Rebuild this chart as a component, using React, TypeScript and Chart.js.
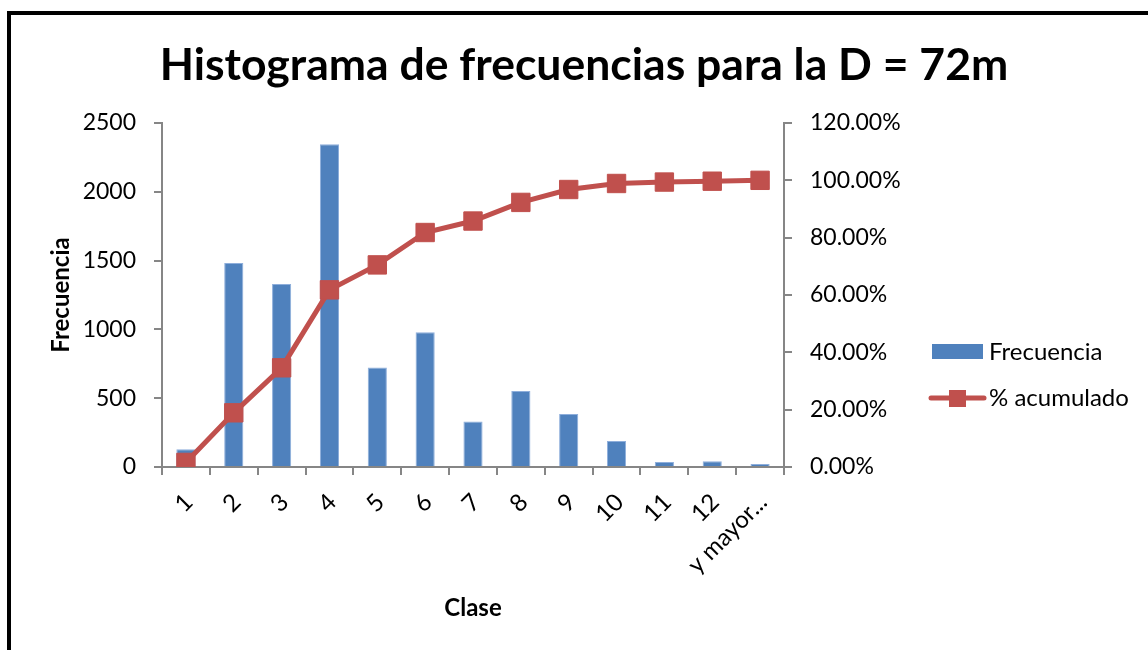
import React, { useEffect, useRef } from "react";
import { Chart, registerables } from "chart.js";

Chart.register(...registerables);

const titleText = "Histograma de frecuencias para la D = 72m";
const categories = ["1", "2", "3", "4", "5", "6", "7", "8", "9", "10", "11", "12", "y mayor..."];
const frecuencia = [129, 1483, 1330, 2346, 723, 980, 330, 553, 386, 189, 36, 41, 22];
const acumulado = [1.6, 18.9, 34.6, 61.8, 70.5, 81.8, 85.8, 92.3, 96.8, 98.9, 99.4, 99.7, 100];
const leftMax = 2500;
const leftStep = 500;
const rightMax = 120;
const rightStep = 20;

const BLUE = "#4F81BD";
const RED = "#C0504D";
const AXIS = "#868686";
const FONT = "Lato";

const titlePlugin = {
  id: "customTitle",
  afterDraw(chart: any) {
    const ctx = chart.ctx;
    ctx.save();
    ctx.font = `bold 44.5px ${FONT}`;
    ctx.fillStyle = "#000";
    ctx.textAlign = "center";
    ctx.textBaseline = "alphabetic";
    ctx.fillText(titleText, 584, 80);
    ctx.restore();
  },
};

const legendPlugin = {
  id: "customLegend",
  afterDraw(chart: any) {
    const ctx = chart.ctx;
    const ds = chart.data.datasets;
    const x0 = chart.chartArea.right + 145;
    const y0 = 352;
    ctx.save();
    ctx.font = `24px ${FONT}`;
    ctx.textBaseline = "middle";
    ctx.textAlign = "left";
    ctx.fillStyle = ds[0].backgroundColor;
    ctx.fillRect(x0 + 3, y0 - 8, 51, 15);
    ctx.fillStyle = "#000";
    ctx.fillText(ds[0].label, x0 + 60, y0);
    const y1 = y0 + 46;
    ctx.strokeStyle = ds[1].borderColor;
    ctx.lineWidth = 5;
    ctx.lineCap = "round";
    ctx.beginPath();
    ctx.moveTo(x0 + 2, y1);
    ctx.lineTo(x0 + 55, y1);
    ctx.stroke();
    ctx.fillStyle = ds[1].pointBackgroundColor;
    ctx.fillRect(x0 + 20, y1 - 8, 17, 17);
    ctx.fillStyle = "#000";
    ctx.fillText(ds[1].label, x0 + 60, y1);
    ctx.restore();
  },
};

export default function App() {
  const ref = useRef<HTMLCanvasElement | null>(null);

  useEffect(() => {
    if (!ref.current) return;
    const chart = new Chart(ref.current, {
      type: "bar",
      data: {
        labels: categories,
        datasets: [
          {
            type: "bar",
            label: "Frecuencia",
            data: frecuencia,
            backgroundColor: BLUE,
            borderColor: "#8EAEDB",
            borderWidth: { top: 1, left: 1, right: 1, bottom: 0 },
            barPercentage: 0.4,
            categoryPercentage: 1,
            yAxisID: "y",
            order: 2,
          } as any,
          {
            type: "line",
            label: "% acumulado",
            data: acumulado,
            borderColor: RED,
            backgroundColor: RED,
            borderWidth: 5,
            pointStyle: "rect",
            pointRadius: 13,
            pointBackgroundColor: RED,
            pointBorderColor: RED,
            pointBorderWidth: 1,
            tension: 0,
            yAxisID: "y1",
            order: 1,
          } as any,
        ],
      },
      options: {
        responsive: false,
        animation: false,
        devicePixelRatio: 1,
        layout: { padding: { top: 123, left: 0, right: 0, bottom: 0 } },
        plugins: {
          legend: { display: false },
          title: { display: false },
          tooltip: { enabled: false },
        },
        scales: {
          x: {
            grid: {
              display: true,
              drawOnChartArea: false,
              drawTicks: true,
              tickLength: 8,
              color: AXIS,
              lineWidth: 2,
              offset: true,
            },
            border: { display: true, color: AXIS, width: 2 },
            ticks: {
              color: "#000",
              font: { family: FONT, size: 24 },
              minRotation: 45,
              maxRotation: 45,
              padding: 13,
              labelOffset: 3,
              autoSkip: false,
            },
            title: {
              display: true,
              text: "Clase",
              color: "#000",
              font: { family: FONT, size: 24, weight: "bold" },
              padding: { top: 0, bottom: 27 },
            },
            afterFit(scale: any) {
              scale.height = 183;
            },
          },
          y: {
            position: "left",
            min: 0,
            max: leftMax,
            grid: {
              drawOnChartArea: false,
              drawTicks: true,
              tickLength: 8,
              color: AXIS,
              lineWidth: 2,
            },
            border: { display: true, color: AXIS, width: 2 },
            ticks: {
              stepSize: leftStep,
              color: "#000",
              font: { family: FONT, size: 23 },
              padding: 18,
              callback: (v: any) => String(v),
            },
            title: {
              display: true,
              text: "Frecuencia",
              color: "#000",
              font: { family: FONT, size: 24, weight: "bold" },
              padding: { top: 47, bottom: 0 },
            },
            afterFit(scale: any) {
              scale.width = 162;
            },
          },
          y1: {
            position: "right",
            min: 0,
            max: rightMax,
            grid: {
              drawOnChartArea: false,
              drawTicks: true,
              tickLength: 8,
              color: AXIS,
              lineWidth: 2,
            },
            border: { display: true, color: AXIS, width: 2 },
            ticks: {
              stepSize: rightStep,
              color: "#000",
              font: { family: FONT, size: 23 },
              padding: 18,
              callback: (v: any) => `${Number(v).toFixed(2)}%`,
            },
            afterFit(scale: any) {
              scale.width = 364;
            },
          },
        },
      },
      plugins: [titlePlugin, legendPlugin],
    });
    return () => chart.destroy();
  }, []);

  return (
    <div style={{ position: "fixed", left: 0, top: 0, width: 1148, height: 650, background: "#fff", overflow: "hidden" }}>
      <div
        style={{
          position: "absolute",
          left: 7,
          top: 11,
          width: 1400,
          height: 900,
          borderLeft: "4px solid #000",
          borderTop: "4px solid #000",
          boxSizing: "border-box",
        }}
      />
      <canvas
        ref={ref}
        width={1148}
        height={650}
        style={{ position: "absolute", left: 0, top: 0, width: 1148, height: 650 }}
      />
    </div>
  );
}
